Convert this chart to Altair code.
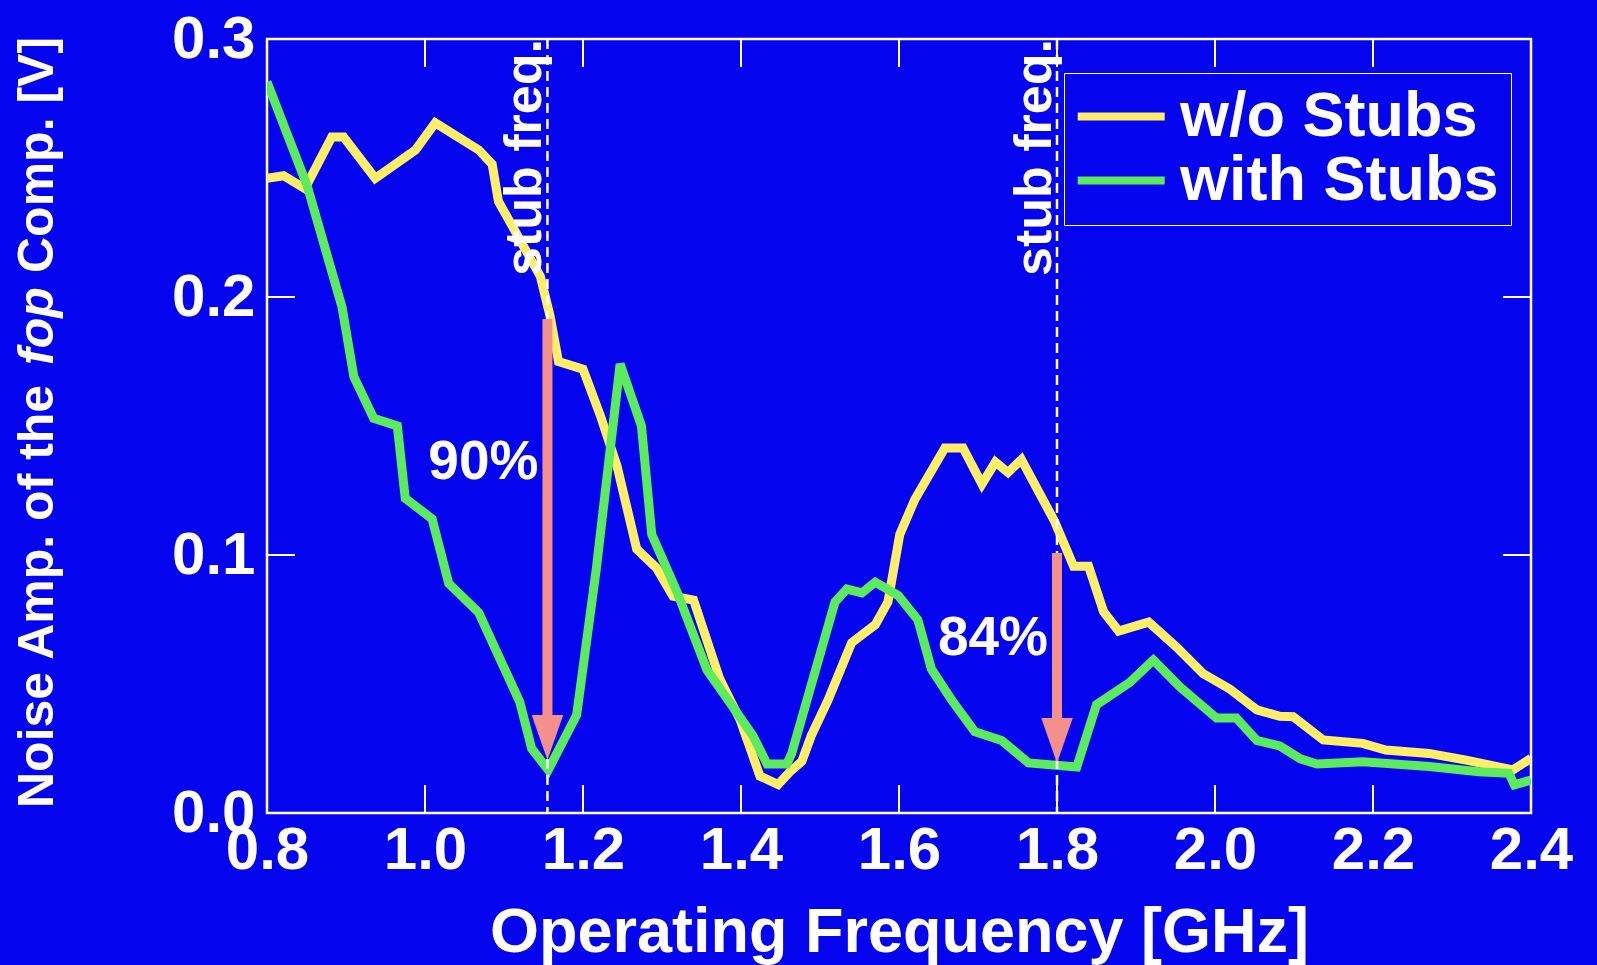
import altair as alt
import pandas as pd

# ---------------- data ----------------
freq_wo = [0.800, 0.821, 0.848, 0.882, 0.897, 0.937, 0.988, 1.013, 1.068, 1.085, 1.093,
           1.115, 1.146, 1.158, 1.169, 1.200, 1.222, 1.243, 1.268, 1.293, 1.314, 1.340,
           1.373, 1.399, 1.424, 1.447, 1.462, 1.477, 1.489, 1.510, 1.540, 1.570, 1.586,
           1.601, 1.620, 1.658, 1.681, 1.705, 1.722, 1.738, 1.755, 1.797, 1.821, 1.840,
           1.859, 1.878, 1.916, 1.951, 1.985, 2.019, 2.053, 2.082, 2.099, 2.137, 2.187,
           2.216, 2.271, 2.318, 2.377, 2.400]
amp_wo = [0.246, 0.247, 0.242, 0.262, 0.262, 0.246, 0.257, 0.2675, 0.257, 0.2515, 0.237,
          0.225, 0.208, 0.193, 0.175, 0.172, 0.154, 0.1346, 0.1023, 0.095, 0.084, 0.0825,
          0.052, 0.036, 0.0143, 0.011, 0.016, 0.020, 0.030, 0.0436, 0.066, 0.073, 0.0818,
          0.108, 0.1215, 0.1415, 0.1415, 0.1275, 0.136, 0.132, 0.137, 0.113, 0.0956, 0.0956,
          0.078, 0.0705, 0.074, 0.0644, 0.054, 0.048, 0.040, 0.0375, 0.0373, 0.0283, 0.027,
          0.0244, 0.0231, 0.0205, 0.0167, 0.0212]

freq_with = [0.800, 0.851, 0.895, 0.910, 0.935, 0.965, 0.975, 1.009, 1.030, 1.068, 1.120,
             1.135, 1.156, 1.192, 1.217, 1.247, 1.274, 1.287, 1.319, 1.357, 1.390, 1.415,
             1.433, 1.458, 1.464, 1.477, 1.519, 1.534, 1.553, 1.570, 1.599, 1.624, 1.641,
             1.667, 1.696, 1.730, 1.764, 1.825, 1.850, 1.892, 1.922, 1.956, 2.002, 2.027,
             2.053, 2.082, 2.108, 2.129, 2.187, 2.271, 2.334, 2.372, 2.379, 2.400]
amp_with = [0.2834, 0.243, 0.196, 0.169, 0.153, 0.150, 0.122, 0.114, 0.089, 0.0777, 0.043,
            0.025, 0.0167, 0.038, 0.095, 0.174, 0.150, 0.108, 0.0857, 0.0554, 0.041, 0.030,
            0.019, 0.019, 0.0229, 0.0368, 0.0818, 0.0868, 0.0853, 0.0895, 0.0843, 0.0748, 0.0558,
            0.0436, 0.0315, 0.0281, 0.0194, 0.0178, 0.042, 0.0506, 0.0593, 0.0488, 0.0368, 0.0368,
            0.0281, 0.026, 0.021, 0.019, 0.0199, 0.018, 0.016, 0.0154, 0.0109, 0.0128]

series_names = ["w/o Stubs", "with Stubs"]
series_colors = ["#FFEE66", "#5CEB5C"]

x_tick_values = [0.8, 1.0, 1.2, 1.4, 1.6, 1.8, 2.0, 2.2, 2.4]
y_tick_values = [0.0, 0.1, 0.2, 0.3]
x_inner_ticks = [1.0, 1.2, 1.4, 1.6, 1.8, 2.0, 2.2]
y_inner_ticks = [0.1, 0.2]

stub_freqs = [1.155, 1.8]
stub_text = ["stub freq.", "stub freq."]

arrow_x = [1.155, 1.8]
arrow_top = [0.1915, 0.1008]
arrow_shaft_end = [0.035, 0.034]
arrow_tip = [0.0205, 0.0194]
pct_text = ["90%", "84%"]
pct_y = [0.136, 0.068]

# ---------------- styling ----------------
W, H = 1264, 774
BG = "#0404EE"
SALMON = "#F4908C"
FONT = "Liberation Sans"
TICK_LEN = 28

lines_df = pd.DataFrame({
    "f": freq_wo + freq_with,
    "v": amp_wo + amp_with,
    "series": [series_names[0]] * len(freq_wo) + [series_names[1]] * len(freq_with),
    "order": list(range(len(freq_wo))) + list(range(len(freq_with))),
})
xt_df = pd.DataFrame({"f": x_inner_ticks})
yt_df = pd.DataFrame({"v": y_inner_ticks})
stub_df = pd.DataFrame({"f": stub_freqs, "label": stub_text})
arrow_df = pd.DataFrame({"f": arrow_x, "v": arrow_top, "v2": arrow_shaft_end,
                         "tip": arrow_tip, "label": pct_text, "ly": pct_y})

xscale = alt.Scale(domain=[0.8, 2.4], nice=False, zero=False)
yscale = alt.Scale(domain=[0.0, 0.3], nice=False, zero=False)

xaxis = alt.Axis(values=x_tick_values, format=".1f", ticks=False, domain=False, grid=False,
                 labelFontSize=60, labelFont=FONT, labelFontWeight="bold", labelColor="white",
                 labelPadding=8, labelOverlap=False, labelFlush=False,
                 title="Operating Frequency [GHz]", titleFontSize=63, titleFont=FONT,
                 titleFontWeight="bold", titleColor="white", titlePadding=21)
yaxis = alt.Axis(values=y_tick_values, format=".1f", ticks=False, domain=False, grid=False,
                 labelFontSize=60, labelFont=FONT, labelFontWeight="bold", labelColor="white",
                 labelPadding=12, labelOverlap=False, labelFlush=False, title=None)


def X(field="f"):
    return alt.X(f"{field}:Q", scale=xscale, axis=xaxis)


def Y(field="v"):
    return alt.Y(f"{field}:Q", scale=yscale, axis=yaxis)


# stub frequency dashed lines
stub_lines = alt.Chart(stub_df).mark_rule(color="white", strokeWidth=2.5, strokeDash=[10, 6]).encode(
    x=X()
)
stub_labels = alt.Chart(stub_df).mark_text(
    angle=270, align="right", baseline="alphabetic", dy=-6, fontSize=52,
    font=FONT, fontWeight="bold", color="white"
).encode(x=X(), y=alt.value(0), text="label:N")

# data lines
lines = alt.Chart(lines_df).mark_line(strokeWidth=9, strokeJoin="miter", clip=True).encode(
    x=X(),
    y=Y(),
    color=alt.Color("series:N", scale=alt.Scale(domain=series_names, range=series_colors),
                    legend=alt.Legend(title=None, orient="none", legendX=797, legendY=34,
                                      direction="vertical", symbolType="M-1.37,0L2.63,0",
                                      symbolSize=1892, symbolStrokeWidth=8,
                                      labelFontSize=63, labelFont=FONT, labelFontWeight="bold",
                                      labelColor="white", labelLimit=600, labelOffset=41,
                                      strokeColor="white", padding=12, rowPadding=-11)),
    order="order:Q",
)

# arrows
shafts = alt.Chart(arrow_df).mark_rule(color=SALMON, strokeWidth=10).encode(
    x=X(), y=Y("v"), y2="v2:Q"
)
heads = alt.Chart(arrow_df).mark_point(
    shape="M-0.7,-1L0.7,-1L0,1Z", size=2025, filled=True, opacity=1,
    color=SALMON, strokeWidth=0, yOffset=-22.5
).encode(x=X(), y=Y("tip"))
pct = alt.Chart(arrow_df).mark_text(
    align="right", baseline="middle", dx=-9, fontSize=55, font=FONT,
    fontWeight="bold", color="white"
).encode(x=X(), y=Y("ly"), text="label:N")

# inward ticks on all four sides
tick_style = dict(color="white", strokeWidth=2)
t_bottom = alt.Chart(xt_df).mark_rule(**tick_style).encode(x=X(), y=alt.value(H), y2=alt.value(H - TICK_LEN))
t_top = alt.Chart(xt_df).mark_rule(**tick_style).encode(x=X(), y=alt.value(0), y2=alt.value(TICK_LEN))
t_left = alt.Chart(yt_df).mark_rule(**tick_style).encode(y=Y(), x=alt.value(0), x2=alt.value(TICK_LEN))
t_right = alt.Chart(yt_df).mark_rule(**tick_style).encode(y=Y(), x=alt.value(W), x2=alt.value(W - TICK_LEN))

# y-axis title with italic "fop"
title_parts = pd.DataFrame({
    "text": ["Noise Amp. of the", "fop", "Comp. [V]"],
})
ytitle_a = alt.Chart(title_parts.iloc[[0]]).mark_text(
    angle=270, align="left", baseline="middle", fontSize=50, font=FONT, fontWeight="bold",
    color="white").encode(x=alt.value(-229), y=alt.value(769), text="text:N")
ytitle_b = alt.Chart(title_parts.iloc[[1]]).mark_text(
    angle=270, align="left", baseline="middle", fontSize=50, font=FONT, fontWeight="bold",
    fontStyle="italic", color="white").encode(x=alt.value(-229), y=alt.value(326), text="text:N")
ytitle_c = alt.Chart(title_parts.iloc[[2]]).mark_text(
    angle=270, align="left", baseline="middle", fontSize=50, font=FONT, fontWeight="bold",
    color="white").encode(x=alt.value(-229), y=alt.value(234), text="text:N")

chart = alt.layer(
    lines, stub_lines, t_bottom, t_top, t_left, t_right, stub_labels,
    shafts, heads, pct, ytitle_a, ytitle_b, ytitle_c
).properties(
    width=W, height=H,
    autosize=alt.AutoSizeParams(type="none"),
    padding={"left": 267, "top": 39, "right": 66, "bottom": 152},
    background=BG,
).configure_view(stroke="white", strokeWidth=2.5)

chart.save("out.html", embed_options={"renderer": "svg", "actions": False})
